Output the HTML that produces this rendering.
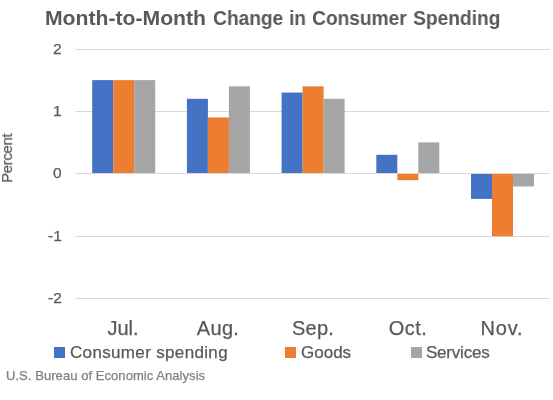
<!DOCTYPE html>
<html><head><meta charset="utf-8"><style>
html,body{margin:0;padding:0;background:#fff;width:553px;height:400px;overflow:hidden}
body{position:relative;font-family:"Liberation Sans",sans-serif}
.t,.cat,.yl,.leg{will-change:transform}
.cat,.yl,.leg,#pct,#src{-webkit-text-stroke:0.25px currentColor}
.t{position:absolute;white-space:nowrap;line-height:1}
.ttl{top:6.5px;font-size:21px;transform-origin:1px 0;font-weight:bold;color:#595959}
.cat{position:absolute;width:100px;text-align:center;top:318px;font-size:20px;line-height:1;color:#595959}
.yl{position:absolute;right:491.5px;font-size:15.5px;line-height:1;color:#595959;white-space:nowrap}
.leg{position:absolute;top:343.6px;font-size:17px;line-height:1;color:#595959;white-space:nowrap}
.sq{position:absolute;top:347px;width:11px;height:11px}
#src{left:6px;top:369.4px;font-size:13px;letter-spacing:0.06px;color:#7F7F7F}
#pct{left:0;top:0;font-size:15px;letter-spacing:-0.4px;color:#595959;transform-origin:0 0;transform:translate(-1.0px,182.8px) rotate(-90deg)}
svg{position:absolute;left:0;top:0}
</style></head><body>
<svg width="553" height="400" viewBox="0 0 553 400">
<rect x="75.5" y="49" width="474" height="1" fill="#D9D9D9"/>
<rect x="75.5" y="111" width="474" height="1" fill="#D9D9D9"/>
<rect x="75.5" y="173" width="474" height="1" fill="#D9D9D9"/>
<rect x="75.5" y="236" width="474" height="1" fill="#D9D9D9"/>
<rect x="75.5" y="298" width="474" height="1" fill="#D9D9D9"/>
<rect x="92.20" y="80.12" width="21.00" height="92.88" fill="#4472C4"/>
<rect x="113.20" y="80.12" width="21.00" height="92.88" fill="#ED7D31"/>
<rect x="134.20" y="80.12" width="21.00" height="92.88" fill="#A5A5A5"/>
<rect x="186.90" y="98.80" width="21.00" height="74.20" fill="#4472C4"/>
<rect x="207.90" y="117.47" width="21.00" height="55.53" fill="#ED7D31"/>
<rect x="228.90" y="86.35" width="21.00" height="86.65" fill="#A5A5A5"/>
<rect x="281.60" y="92.58" width="21.00" height="80.42" fill="#4472C4"/>
<rect x="302.60" y="86.35" width="21.00" height="86.65" fill="#ED7D31"/>
<rect x="323.60" y="98.80" width="21.00" height="74.20" fill="#A5A5A5"/>
<rect x="376.30" y="154.82" width="21.00" height="18.18" fill="#4472C4"/>
<rect x="397.30" y="174.00" width="21.00" height="6.22" fill="#ED7D31"/>
<rect x="418.30" y="142.38" width="21.00" height="30.62" fill="#A5A5A5"/>
<rect x="471.00" y="174.00" width="21.00" height="24.90" fill="#4472C4"/>
<rect x="492.00" y="174.00" width="21.00" height="62.25" fill="#ED7D31"/>
<rect x="513.00" y="174.00" width="21.00" height="12.45" fill="#A5A5A5"/>
</svg>
<div class="t ttl" style="left:44.70px;transform:scaleX(1.0076)">Month-to-Month</div>
<div class="t ttl" style="left:213.40px;transform:scaleX(0.9107)">Change</div>
<div class="t ttl" style="left:288.70px;transform:scaleX(0.9059)">in</div>
<div class="t ttl" style="left:311.50px;transform:scaleX(0.9107)">Consumer</div>
<div class="t ttl" style="left:413.00px;transform:scaleX(0.9129)">Spending</div>
<div class="yl" style="top:40.8px">2</div>
<div class="yl" style="top:103.1px">1</div>
<div class="yl" style="top:165.3px">0</div>
<div class="yl" style="top:227.6px">-1</div>
<div class="yl" style="top:289.8px">-2</div>
<div id="pct" class="t">Percent</div>
<div class="cat" style="left:73.20px;letter-spacing:0px">Jul.</div>
<div class="cat" style="left:168.05px;letter-spacing:0.3px">Aug.</div>
<div class="cat" style="left:262.70px;letter-spacing:0.2px">Sep.</div>
<div class="cat" style="left:357.55px;letter-spacing:0.5px">Oct.</div>
<div class="cat" style="left:452.40px;letter-spacing:0.8px">Nov.</div>
<div class="sq" style="left:54px;background:#4472C4"></div>
<div class="leg" style="left:69.7px;letter-spacing:0.34px">Consumer spending</div>
<div class="sq" style="left:285.4px;background:#ED7D31"></div>
<div class="leg" style="left:301.2px">Goods</div>
<div class="sq" style="left:410.5px;background:#A5A5A5"></div>
<div class="leg" style="left:426.1px;letter-spacing:-0.22px">Services</div>
<div id="src" class="t">U.S. Bureau of Economic Analysis</div>
</body></html>
